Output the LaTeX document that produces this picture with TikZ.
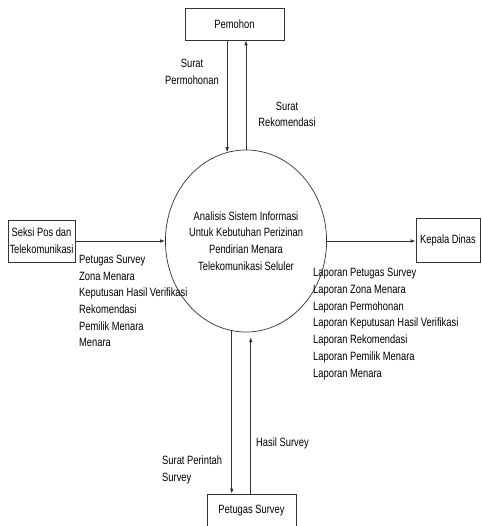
\documentclass[tikz,border=0pt]{standalone}
\usepackage{fontspec}
\setmainfont{Liberation Sans}[FakeStretch=0.78]
\usetikzlibrary{shapes.geometric,arrows.meta}
\begin{document}
\begin{tikzpicture}[x=1pt,y=-1pt,
  every node/.style={font=\fontsize{12}{16.7}\selectfont, text=black},
  entity/.style={draw=black!80, line width=0.7pt, rectangle, inner sep=0pt},
  process/.style={draw=black!80, line width=0.7pt, ellipse, inner sep=0pt, align=center},
  flow/.style={draw=black!80, line width=0.7pt, -{Latex[length=5pt,width=3.6pt]}},
  lbl/.style={inner sep=0pt}]
\useasboundingbox (0,0) rectangle (481,526);
% entities
\node[entity, minimum width=99pt, minimum height=32pt] (pemohon) at (234.5,24) {Pemohon};
\node[entity, minimum width=67pt, minimum height=42pt, align=center] (seksi) at (41.5,241) {Seksi Pos dan\\Telekomunikasi};
\node[entity, minimum width=64pt, minimum height=44pt] (kepala) at (448,240) {Kepala Dinas};
\node[entity, minimum width=89pt, minimum height=34pt] (survey) at (251.5,511) {Petugas Survey};
% process
\node[process, minimum width=122pt, minimum height=182pt] (proc) at (246,241)
  {Analisis Sistem Informasi\\Untuk Kebutuhan Perizinan\\Pendirian Menara\\Telekomunikasi Seluler};
% flows
\draw[flow] (proc.102.4 |- pemohon.south) -- (proc.102.4);
\draw[flow] (proc.90.6) -- (proc.90.6 |- pemohon.south);
\draw[flow] (seksi.east) -- (proc.west);
\draw[flow] (proc.east) -- (proc.east -| kepala.west);
\draw[flow] (proc.261.7) -- (proc.261.7 |- survey.north);
\draw[flow, shorten >=5pt] (proc.273.8 |- survey.north) -- (proc.273.8);
% labels
\node[lbl, align=center] (l1) at (192,72) {Surat\\Permohonan};
\node[lbl, align=center] (l2) at (287,114.5) {Surat\\Rekomendasi};
\node[lbl, align=left, anchor=west] (l3) at (79,301) {Petugas Survey\\Zona Menara\\Keputusan Hasil Verifikasi\\Rekomendasi\\Pemilik Menara\\Menara};
\node[lbl, align=left, anchor=west] (l4) at (313,324) {Laporan Petugas Survey\\Laporan Zona Menara\\Laporan Permohonan\\Laporan Keputusan Hasil Verifikasi\\Laporan Rekomendasi\\Laporan Pemilik Menara\\Laporan Menara};
\node[lbl, align=left, anchor=west] (l5) at (256,443) {Hasil Survey};
\node[lbl, align=left, anchor=west] (l6) at (162,470) {Surat Perintah\\Survey};
\end{tikzpicture}
\end{document}
